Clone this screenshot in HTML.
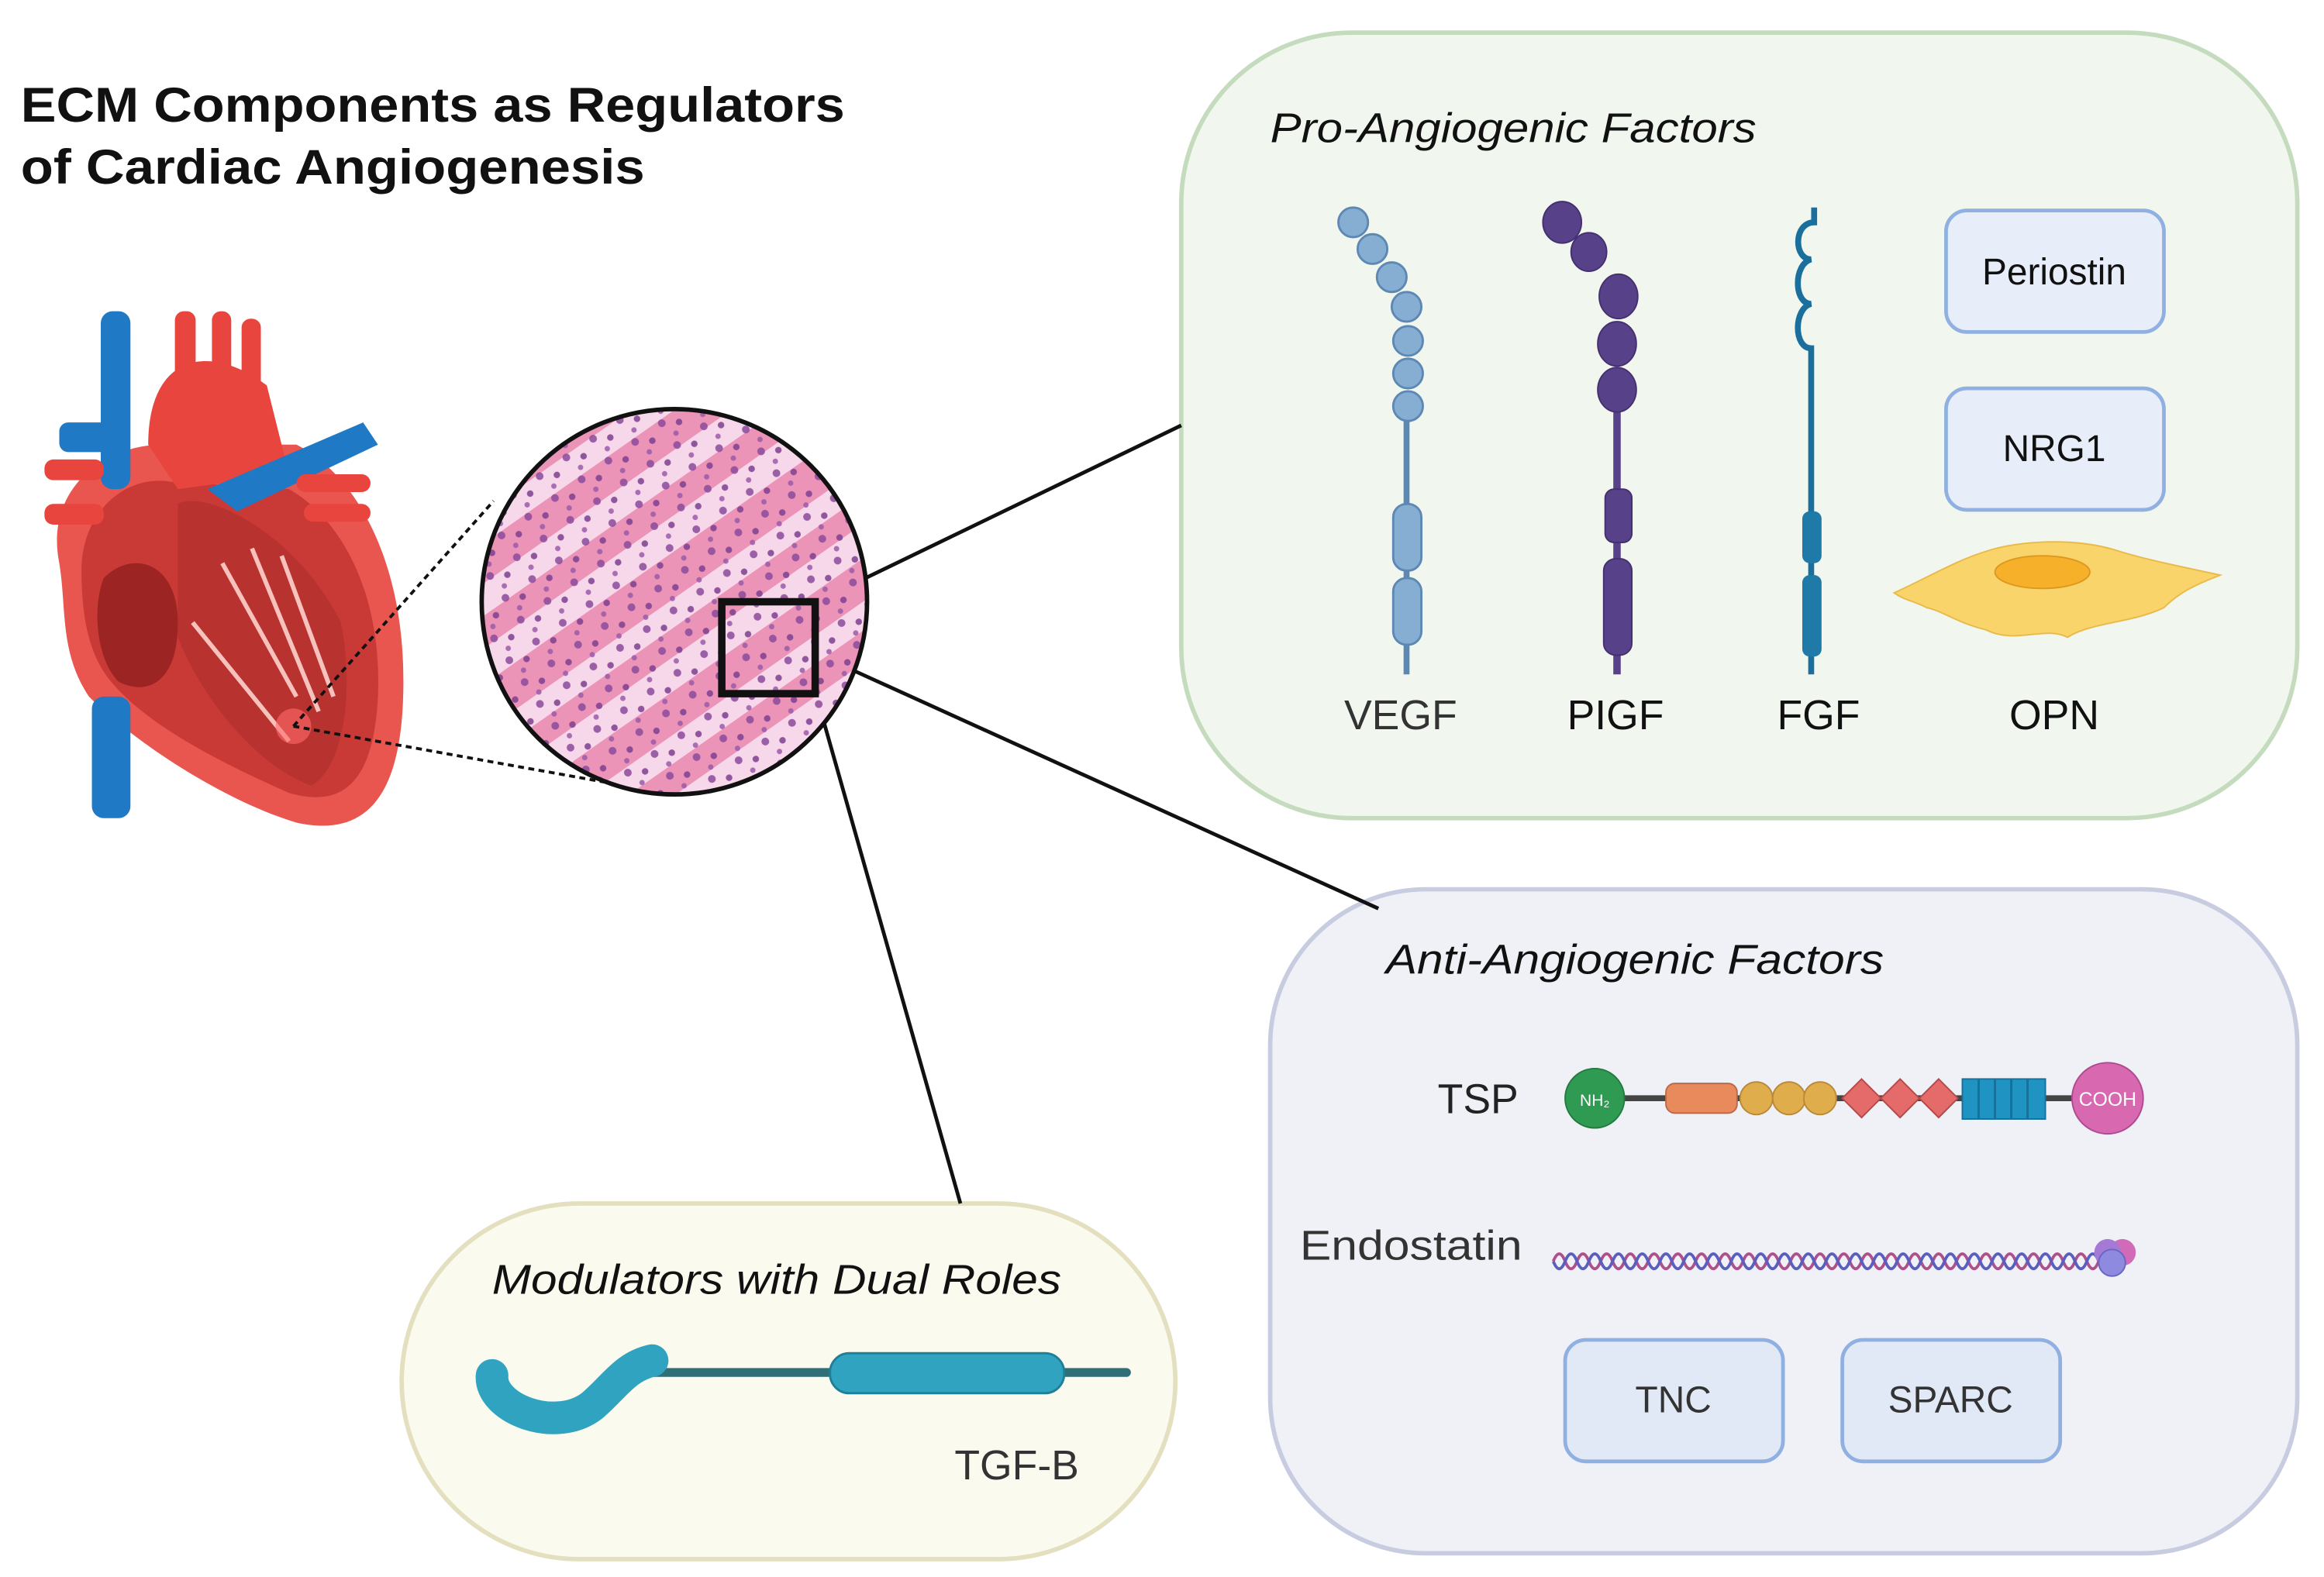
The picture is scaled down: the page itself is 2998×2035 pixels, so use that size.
<!DOCTYPE html>
<html><head><meta charset="utf-8"><style>
html,body{margin:0;padding:0;background:#fff;}
svg{display:block;}
text{font-family:"Liberation Sans",sans-serif;}
</style></head><body>
<svg width="2998" height="2035" viewBox="0 0 1568 1064" preserveAspectRatio="none" xmlns="http://www.w3.org/2000/svg">
<defs>
<clipPath id="cc"><circle cx="455" cy="406" r="130"/></clipPath>
<pattern id="dots" width="22" height="18" patternUnits="userSpaceOnUse" patternTransform="rotate(-35)">
<circle cx="4" cy="4" r="2.6" fill="#8a4a9a"/><circle cx="14" cy="10" r="2.2" fill="#7d3f90"/><circle cx="8" cy="15" r="1.8" fill="#9a5aa8"/>
</pattern>
</defs>
<rect width="1568" height="1064" fill="#fff"/>
<text x="14" y="82" font-size="33" font-weight="bold" fill="#111" textLength="556" lengthAdjust="spacingAndGlyphs">ECM Components as Regulators</text>
<text x="14" y="124" font-size="33" font-weight="bold" fill="#111" textLength="421" lengthAdjust="spacingAndGlyphs">of Cardiac Angiogenesis</text>

<!-- boxes -->
<rect x="797" y="22" width="753" height="530" rx="115" fill="#f1f7ef" stroke="#c4dcbd" stroke-width="3"/>
<rect x="857" y="600" width="693" height="448" rx="105" fill="#f0f1f7" stroke="#c7cce0" stroke-width="3"/>
<rect x="271" y="812" width="522" height="240" rx="120" fill="#fbfaee" stroke="#e3dfbf" stroke-width="3"/>

<!-- connector lines -->
<line x1="553" y1="405" x2="797" y2="287" stroke="#111" stroke-width="2.5"/>
<line x1="575" y1="452" x2="930" y2="613" stroke="#111" stroke-width="2.5"/>
<line x1="551" y1="470" x2="648" y2="812" stroke="#111" stroke-width="2.5"/>

<!-- heart -->
<g>
<path d="M40 380 C30 330 70 300 110 300 L200 300 C240 320 275 380 272 470 C270 540 245 565 200 555 C150 540 90 500 60 470 C40 440 45 410 40 380Z" fill="#e8564f"/>
<path d="M55 385 C55 345 85 320 115 325 L195 330 C230 350 258 400 255 470 C252 530 230 545 195 535 C150 515 100 490 75 460 C58 440 55 410 55 385Z" fill="#c93a36"/>
<path d="M120 340 C140 330 200 360 230 420 C240 470 230 520 210 530 C180 520 140 480 120 430Z" fill="#b83230"/>
<path d="M150 380 L200 470 M170 370 L215 480 M190 375 L225 470 M130 420 L195 500" stroke="#f6c2bb" stroke-width="3"/>
<path d="M70 390 C90 370 120 380 120 420 C120 460 100 470 80 460 C65 445 62 410 70 390Z" fill="#9c2422"/>
<path d="M100 300 C100 240 140 230 180 260 L195 320 L120 330Z" fill="#e8453f"/>
<rect x="118" y="210" width="14" height="80" rx="6" fill="#e8453f"/>
<rect x="143" y="210" width="13" height="70" rx="6" fill="#e8453f"/>
<rect x="163" y="215" width="13" height="65" rx="6" fill="#e8453f"/>
<rect x="68" y="210" width="20" height="120" rx="8" fill="#1f79c4"/>
<rect x="62" y="470" width="26" height="82" rx="8" fill="#1f79c4"/>
<path d="M140 330 L245 285 L255 300 L160 345Z" fill="#1f79c4"/>
<rect x="30" y="310" width="40" height="14" rx="6" fill="#e8453f"/>
<rect x="30" y="340" width="40" height="14" rx="6" fill="#e8453f"/>
<rect x="200" y="320" width="50" height="12" rx="6" fill="#e8453f"/>
<rect x="205" y="340" width="45" height="12" rx="6" fill="#e8453f"/>
<rect x="40" y="285" width="40" height="20" rx="6" fill="#1f79c4"/>
<circle cx="198" cy="490" r="12" fill="#ff6a6a" opacity="0.6"/>
</g>
<line x1="198" y1="490" x2="333" y2="338" stroke="#111" stroke-width="2" stroke-dasharray="4 3"/>
<line x1="198" y1="490" x2="432" y2="532" stroke="#111" stroke-width="2" stroke-dasharray="4 3"/>

<!-- histology circle -->
<g clip-path="url(#cc)">
<rect x="320" y="270" width="270" height="270" fill="#f7d8ea"/>
<g fill="#ec93b8" transform="rotate(-35 455 406)">
<rect x="300" y="300" width="320" height="22" rx="11"/>
<rect x="290" y="340" width="330" height="18" rx="9"/>
<rect x="300" y="378" width="310" height="26" rx="13"/>
<rect x="290" y="420" width="340" height="16" rx="8"/>
<rect x="300" y="455" width="310" height="24" rx="12"/>
<rect x="300" y="495" width="320" height="18" rx="9"/>
<rect x="300" y="265" width="320" height="18" rx="9"/>
</g>
<rect x="320" y="270" width="270" height="270" fill="url(#dots)" opacity="0.85"/>
</g>
<circle cx="455" cy="406" r="130" fill="none" stroke="#111" stroke-width="3"/>
<rect x="487" y="406" width="63" height="62" fill="none" stroke="#111" stroke-width="5"/>

<!-- Pro-angiogenic -->
<text x="857" y="96" font-size="28" font-style="italic" fill="#111" textLength="328" lengthAdjust="spacingAndGlyphs">Pro-Angiogenic Factors</text>
<g fill="#86aed3" stroke="#5d88b3" stroke-width="1.5">
<line x1="949" y1="270" x2="949" y2="455" stroke="#5d88b3" stroke-width="4"/>
<circle cx="913" cy="150" r="10"/><circle cx="926" cy="168" r="10"/><circle cx="939" cy="187" r="10"/>
<circle cx="949" cy="207" r="10"/><circle cx="950" cy="230" r="10"/><circle cx="950" cy="252" r="10"/><circle cx="950" cy="274" r="10"/>
<rect x="940" y="340" width="19" height="45" rx="9"/><rect x="940" y="390" width="19" height="45" rx="9"/>
</g>
<g fill="#574189" stroke="#44306f" stroke-width="1">
<line x1="1091" y1="260" x2="1091" y2="455" stroke="#574189" stroke-width="5"/>
<ellipse cx="1054" cy="150" rx="13" ry="14"/><ellipse cx="1072" cy="170" rx="12" ry="13"/>
<ellipse cx="1092" cy="200" rx="13" ry="15"/><ellipse cx="1091" cy="232" rx="13" ry="15"/><ellipse cx="1091" cy="263" rx="13" ry="15"/>
<rect x="1083" y="330" width="18" height="36" rx="6"/><rect x="1082" y="377" width="19" height="65" rx="8"/>
</g>
<path d="M1224 140 L1224 150 C1210 150 1210 175 1222 175 C1210 178 1210 205 1222 205 C1210 208 1210 235 1222 235 L1222 455" fill="none" stroke="#1a6f9c" stroke-width="4"/>
<rect x="1216" y="345" width="13" height="35" rx="5" fill="#1f7aa8"/>
<rect x="1216" y="388" width="13" height="55" rx="5" fill="#1f7aa8"/>
<rect x="1313" y="142" width="147" height="82" rx="14" fill="#e8eef9" stroke="#8fb0e0" stroke-width="2.5"/>
<text x="1386" y="192" font-size="25" text-anchor="middle" fill="#111">Periostin</text>
<rect x="1313" y="262" width="147" height="82" rx="14" fill="#e8eef9" stroke="#8fb0e0" stroke-width="2.5"/>
<text x="1386" y="311" font-size="25" text-anchor="middle" fill="#111">NRG1</text>
<path d="M1278 400 C1300 390 1320 378 1340 372 C1360 365 1400 362 1430 372 C1450 378 1470 382 1498 388 C1480 395 1470 400 1460 410 C1440 420 1410 420 1395 430 C1380 422 1360 435 1340 425 C1320 420 1310 412 1300 410 C1290 405 1285 405 1278 400Z" fill="#f9d46a" stroke="#e9b94a" stroke-width="1"/>
<ellipse cx="1378" cy="386" rx="32" ry="11" fill="#f6b02a" stroke="#dd9820"/>
<text x="945" y="492" font-size="28" text-anchor="middle" fill="#333">VEGF</text>
<text x="1090" y="492" font-size="28" text-anchor="middle" fill="#111">PIGF</text>
<text x="1227" y="492" font-size="28" text-anchor="middle" fill="#111">FGF</text>
<text x="1386" y="492" font-size="28" text-anchor="middle" fill="#111">OPN</text>

<!-- Anti-angiogenic -->
<text x="935" y="657" font-size="28" font-style="italic" fill="#111" textLength="336" lengthAdjust="spacingAndGlyphs">Anti-Angiogenic Factors</text>
<text x="970" y="751" font-size="28" fill="#222">TSP</text>
<line x1="1090" y1="741" x2="1410" y2="741" stroke="#444" stroke-width="4"/>
<circle cx="1076" cy="741" r="20" fill="#2f9a52" stroke="#23793f"/>
<text x="1076" y="746" font-size="11" fill="#fff" text-anchor="middle">NH₂</text>
<rect x="1124" y="731" width="48" height="20" rx="6" fill="#e88a5c" stroke="#b86a4a"/>
<circle cx="1185" cy="741" r="11" fill="#e0ad4d" stroke="#b8893a"/><circle cx="1207" cy="741" r="11" fill="#e0ad4d" stroke="#b8893a"/><circle cx="1228" cy="741" r="11" fill="#e0ad4d" stroke="#b8893a"/>
<path d="M1243 741 L1256 728 L1269 741 L1256 754Z M1269 741 L1282 728 L1295 741 L1282 754Z M1295 741 L1308 728 L1321 741 L1308 754Z" fill="#e46b6a" stroke="#b34a4a"/>
<rect x="1324" y="728" width="56" height="27" fill="#1f93c2" stroke="#16709a"/>
<path d="M1335 728 V755 M1346 728 V755 M1357 728 V755 M1368 728 V755" stroke="#16709a" stroke-width="1.5"/>
<circle cx="1422" cy="741" r="24" fill="#d868b0" stroke="#b04a90"/>
<text x="1422" y="746" font-size="13" fill="#fff" text-anchor="middle">COOH</text>
<text x="877" y="850" font-size="28" fill="#333" textLength="150" lengthAdjust="spacingAndGlyphs">Endostatin</text>
<path d="M1048 851 q4 -10 8 0 q4 10 8 0 q4 -10 8 0 q4 10 8 0 q4 -10 8 0 q4 10 8 0 q4 -10 8 0 q4 10 8 0 q4 -10 8 0 q4 10 8 0 q4 -10 8 0 q4 10 8 0 q4 -10 8 0 q4 10 8 0 q4 -10 8 0 q4 10 8 0 q4 -10 8 0 q4 10 8 0 q4 -10 8 0 q4 10 8 0 q4 -10 8 0 q4 10 8 0 q4 -10 8 0 q4 10 8 0 q4 -10 8 0 q4 10 8 0 q4 -10 8 0 q4 10 8 0 q4 -10 8 0 q4 10 8 0 q4 -10 8 0 q4 10 8 0 q4 -10 8 0 q4 10 8 0 q4 -10 8 0 q4 10 8 0 q4 -10 8 0 q4 10 8 0 q4 -10 8 0 q4 10 8 0 q4 -10 8 0 q4 10 8 0 q4 -10 8 0 q4 10 8 0 q4 -10 8 0 q4 10 8 0" fill="none" stroke="#b0508a" stroke-width="2"/>
<path d="M1048 851 q4 10 8 0 q4 -10 8 0 q4 10 8 0 q4 -10 8 0 q4 10 8 0 q4 -10 8 0 q4 10 8 0 q4 -10 8 0 q4 10 8 0 q4 -10 8 0 q4 10 8 0 q4 -10 8 0 q4 10 8 0 q4 -10 8 0 q4 10 8 0 q4 -10 8 0 q4 10 8 0 q4 -10 8 0 q4 10 8 0 q4 -10 8 0 q4 10 8 0 q4 -10 8 0 q4 10 8 0 q4 -10 8 0 q4 10 8 0 q4 -10 8 0 q4 10 8 0 q4 -10 8 0 q4 10 8 0 q4 -10 8 0 q4 10 8 0 q4 -10 8 0 q4 10 8 0 q4 -10 8 0 q4 10 8 0 q4 -10 8 0 q4 10 8 0 q4 -10 8 0 q4 10 8 0 q4 -10 8 0 q4 10 8 0 q4 -10 8 0 q4 10 8 0 q4 -10 8 0 q4 10 8 0 q4 -10 8 0" fill="none" stroke="#5a5fbf" stroke-width="2"/>
<circle cx="1432" cy="845" r="9" fill="#d16ab8"/><circle cx="1422" cy="845" r="9" fill="#a57ad6"/><circle cx="1425" cy="852" r="9" fill="#8d8ae0" stroke="#6a66c0"/>
<rect x="1056" y="904" width="147" height="82" rx="14" fill="#e1e9f6" stroke="#8fb0e0" stroke-width="2.5"/>
<text x="1129" y="953" font-size="25" text-anchor="middle" fill="#333">TNC</text>
<rect x="1243" y="904" width="147" height="82" rx="14" fill="#e1e9f6" stroke="#8fb0e0" stroke-width="2.5"/>
<text x="1316" y="953" font-size="25" text-anchor="middle" fill="#333">SPARC</text>

<!-- Dual roles -->
<text x="332" y="873" font-size="28" font-style="italic" fill="#111" textLength="384" lengthAdjust="spacingAndGlyphs">Modulators with Dual Roles</text>
<line x1="440" y1="926" x2="760" y2="926" stroke="#2f6f78" stroke-width="6" stroke-linecap="round"/>
<rect x="560" y="913" width="158" height="27" rx="13" fill="#2fa3bf" stroke="#1f7f98" stroke-width="1.5"/>
<path d="M332 928 C330 950 375 968 400 948 C415 935 422 922 440 918" fill="none" stroke="#2fa3bf" stroke-width="22" stroke-linecap="round"/>
<text x="686" y="998" font-size="28" text-anchor="middle" fill="#333">TGF-B</text>
</svg>
</body></html>
